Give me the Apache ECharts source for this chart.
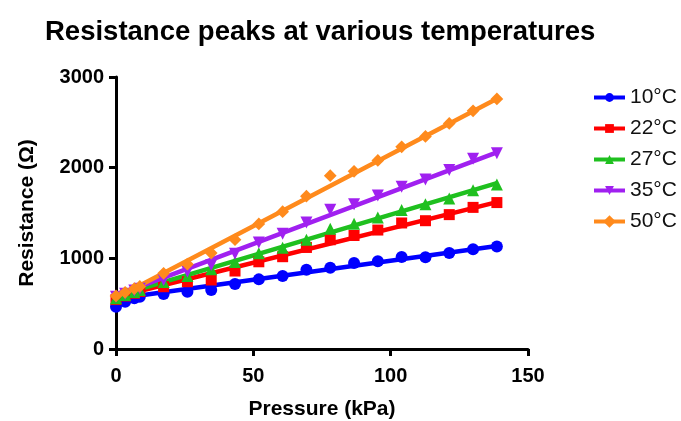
<!DOCTYPE html>
<html>
<head>
<meta charset="utf-8">
<script src="https://cdn.jsdelivr.net/npm/echarts@6/dist/echarts.min.js"></script>
<style>html,body{margin:0;padding:0;background:#fff}#c{width:681px;height:421px}</style>
</head>
<body>
<div id="c"></div>
<script>
var titleText = 'Resistance peaks at various temperatures';
var xName = 'Pressure (kPa)';
var yName = 'Resistance (Ω)';
var seriesNames = ['10°C', '22°C', '27°C', '35°C', '50°C'];
var colors = ['#0000FF', '#FF0000', '#1FC01F', '#A020F0', '#FF8A1C'];
var pressure = [0, 3.33, 6.67, 8.67, 17.33, 26, 34.67, 43.33, 52, 60.67, 69.33, 78, 86.67, 95.33, 104, 112.67, 121.33, 130, 138.67];
var r10 = [466, 521, 559, 577, 606, 632, 650, 717, 768, 805, 875, 895, 948, 968, 1015, 1011, 1058, 1099, 1130];
var r22 = [545, 585, 615, 635, 687, 742, 761, 860, 962, 1018, 1120, 1205, 1252, 1312, 1390, 1415, 1482, 1562, 1615];
var r27 = [560, 595, 630, 650, 740, 805, 880, 960, 1055, 1118, 1205, 1325, 1382, 1450, 1533, 1597, 1661, 1750, 1815];
var r35 = [575, 610, 645, 665, 761, 852, 926, 1050, 1175, 1270, 1395, 1535, 1597, 1692, 1789, 1870, 1975, 2097, 2158];
var r50 = [585, 625, 665, 690, 835, 935, 1058, 1205, 1380, 1514, 1685, 1912, 1960, 2080, 2230, 2345, 2488, 2627, 2758];
// fitted curves: knots at these pressures
var fitX = [0, 8.67, 138.67];
var fit10 = [480, 590, 1135];
var fit22 = [545, 640, 1620];
var fit27 = [565, 660, 1830];
var fit35 = [580, 688, 2168];
var fit50 = [585, 700, 2760];

var values = [r10, r22, r27, r35, r50];
var fits = [fit10, fit22, fit27, fit35, fit50];
var symbols = ['circle', 'rect', 'triangle', 'triangle', 'rect'];
var symRot = [0, 0, 0, 180, 45];
var symSize = [12, 11, 12, 12, 9];
var FONT = '"Liberation Sans", Arial, Helvetica, sans-serif';

function zip(xs, ys) { return xs.map(function (x, i) { return [x, ys[i]]; }); }

var series = [];
for (var i = 0; i < seriesNames.length; i++) {
  series.push({
    type: 'line', name: seriesNames[i], data: zip(pressure, values[i]),
    symbol: symbols[i], symbolRotate: symRot[i], symbolSize: symSize[i], showSymbol: true,
    itemStyle: { color: colors[i] }, lineStyle: { width: 0, color: colors[i] },
    z: 3 + i, silent: true
  });
}
for (var j = 0; j < seriesNames.length; j++) {
  series.push({
    type: 'line', name: seriesNames[j], data: zip(fitX, fits[j]),
    symbol: 'none', itemStyle: { color: colors[j] },
    lineStyle: { width: 4.5, color: colors[j] }, z: 2 + j, silent: true
  });
}

var axisCommon = {
  axisLine: { show: true, onZero: false, lineStyle: { color: '#000', width: 3 } },
  axisTick: { show: true, length: 7, lineStyle: { color: '#000', width: 3 } },
  splitLine: { show: false },
  axisLabel: { color: '#000', fontSize: 20, fontWeight: 'bold', fontFamily: FONT, formatter: function (v) { return String(v); } },
  nameTextStyle: { color: '#000', fontSize: 21, fontWeight: 'bold', fontFamily: FONT }
};

var option = {
  animation: false,
  backgroundColor: '#fff',
  title: {
    text: titleText, left: 40, top: 13,
    textStyle: { color: '#000', fontSize: 27.5, fontWeight: 'bold', fontFamily: FONT }
  },
  legend: {
    orient: 'vertical', left: 587, top: 82, itemGap: 10, itemWidth: 31, itemHeight: 11,
    data: seriesNames,
    textStyle: { color: '#111', fontSize: 21, fontFamily: FONT },
    lineStyle: { width: 4, opacity: 1 }
  },
  grid: { left: 116, right: 153, top: 77, bottom: 72, containLabel: false, outerBoundsMode: 'none' },
  xAxis: Object.assign({}, axisCommon, {
    type: 'value', min: 0, max: 150, interval: 50,
    name: xName, nameLocation: 'middle', nameGap: 50,
    axisLabel: Object.assign({}, axisCommon.axisLabel, { margin: 17 })
  }),
  yAxis: Object.assign({}, axisCommon, {
    type: 'value', min: 0, max: 3000, interval: 1000,
    name: yName, nameLocation: 'middle', nameGap: 78,
    axisLabel: Object.assign({}, axisCommon.axisLabel, { margin: 12 })
  }),
  series: series
};
echarts.init(document.getElementById('c')).setOption(option);
</script>
</body>
</html>
